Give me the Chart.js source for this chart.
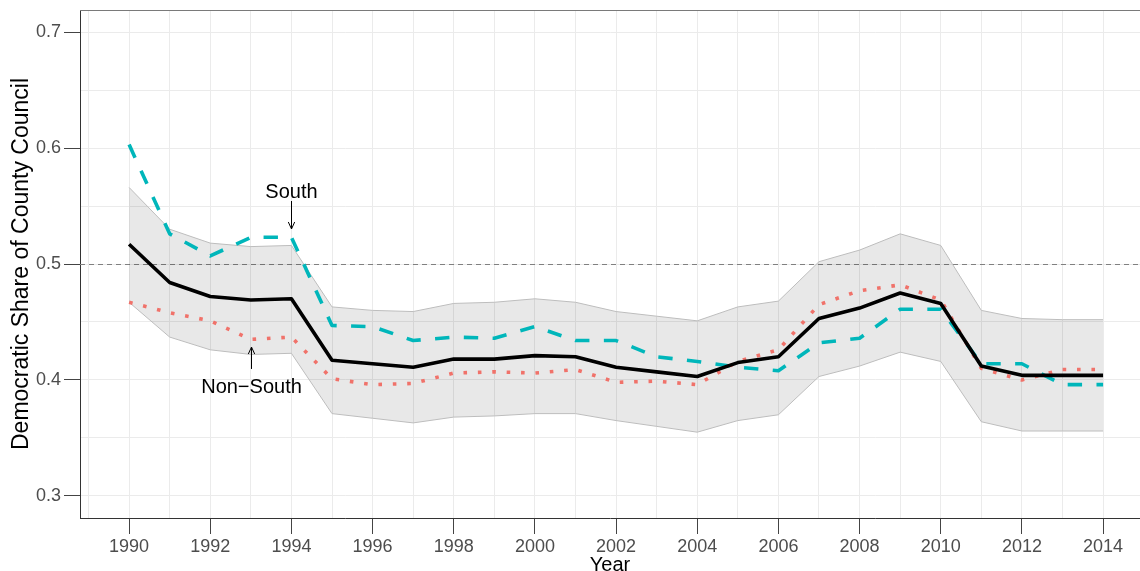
<!DOCTYPE html>
<html>
<head>
<meta charset="utf-8">
<title>Democratic Share of County Council, 1990–2014</title>
<script src="https://cdn.jsdelivr.net/npm/chart.js@4.4.1/dist/chart.umd.min.js"></script>
<style>
  html, body { margin: 0; padding: 0; background: #ffffff; }
  #wrap { width: 1140px; height: 571px; }
</style>
</head>
<body>
<div id="wrap"><canvas id="chart" width="1140" height="571"></canvas></div>
<script>
// ---- data ----
const years = [1990, 1991, 1992, 1993, 1994, 1995, 1996, 1997, 1998, 1999, 2000, 2001, 2002,
               2003, 2004, 2005, 2006, 2007, 2008, 2009, 2010, 2011, 2012, 2013, 2014];

// overall mean share
const overall = [0.517, 0.484, 0.472, 0.469, 0.470, 0.417, 0.414, 0.411, 0.418, 0.418, 0.421, 0.420, 0.411,
                 0.407, 0.403, 0.415, 0.420, 0.453, 0.462, 0.475, 0.466, 0.412, 0.404, 0.404, 0.404];
// confidence band around the overall mean
const bandUpper = [0.566, 0.530, 0.518, 0.515, 0.516, 0.463, 0.460, 0.459, 0.466, 0.467, 0.470, 0.467, 0.459,
                   0.455, 0.451, 0.463, 0.468, 0.502, 0.512, 0.526, 0.516, 0.460, 0.453, 0.452, 0.452];
const bandLower = [0.467, 0.437, 0.426, 0.422, 0.423, 0.371, 0.367, 0.363, 0.368, 0.369, 0.371, 0.371, 0.365,
                   0.360, 0.355, 0.365, 0.370, 0.403, 0.412, 0.424, 0.416, 0.364, 0.356, 0.356, 0.356];
// regional series
const south = [0.603, 0.526, 0.507, 0.523, 0.523, 0.447, 0.446, 0.434, 0.437, 0.436, 0.446, 0.434, 0.434,
               0.420, 0.416, 0.411, 0.408, 0.432, 0.436, 0.461, 0.461, 0.414, 0.414, 0.396, 0.396];
const nonSouth = [0.467, 0.458, 0.451, 0.435, 0.437, 0.401, 0.396, 0.397, 0.406, 0.407, 0.406, 0.409, 0.398,
                  0.399, 0.396, 0.416, 0.426, 0.465, 0.477, 0.482, 0.469, 0.410, 0.400, 0.409, 0.409];

// axis ticks (grid at every tick, labels on the major ones)
const xTicks = [1989, 1990, 1991, 1992, 1993, 1994, 1995, 1996, 1997, 1998, 1999, 2000, 2001,
                2002, 2003, 2004, 2005, 2006, 2007, 2008, 2009, 2010, 2011, 2012, 2013, 2014];
const yTicks = [0.30, 0.35, 0.40, 0.45, 0.50, 0.55, 0.60, 0.65, 0.70];
const yMajor = [0.3, 0.4, 0.5, 0.6, 0.7];

// reference line for an even split
const parityLine = 0.5;

// labelled arrows pointing at the regional series
const notes = [
  { text: 'South',     year: 1994, baseline: 0.5569, tail: 0.5543, tip: 0.5302 },
  { text: 'Non\u2212South', year: 1993, baseline: 0.3888, tail: 0.4095, tip: 0.4284 }
];

// ---- drawing ----
const FONT = '"Liberation Sans", Arial, Helvetica, sans-serif';
const pts = arr => years.map((yr, i) => ({ x: yr, y: arr[i] }));
const isMajorY = v => yMajor.some(m => Math.abs(m - v) < 1e-9);

const panelDecor = {
  id: 'panelDecor',
  beforeDatasetsDraw(chart) {
    const { ctx, chartArea: a, scales: { y } } = chart;
    ctx.save();
    // panel top edge
    ctx.strokeStyle = '#7a7a7a';
    ctx.lineWidth = 1;
    ctx.beginPath();
    ctx.moveTo(a.left, a.top + 0.5);
    ctx.lineTo(a.right, a.top + 0.5);
    ctx.stroke();
    // dashed 50% line
    const py = Math.round(y.getPixelForValue(parityLine)) + 0.5;
    ctx.strokeStyle = '#808080';
    ctx.lineWidth = 1.1;
    ctx.setLineDash([5, 4]);
    ctx.beginPath();
    ctx.moveTo(a.left, py);
    ctx.lineTo(a.right, py);
    ctx.stroke();
    ctx.restore();
  },
  afterDatasetsDraw(chart) {
    const { ctx, scales: { x, y } } = chart;
    ctx.save();
    ctx.fillStyle = '#000';
    ctx.strokeStyle = '#000';
    ctx.lineWidth = 1;
    ctx.font = '20px ' + FONT;
    ctx.textAlign = 'center';
    ctx.textBaseline = 'alphabetic';
    notes.forEach(n => {
      const px = Math.round(x.getPixelForValue(n.year)) + 0.5;
      ctx.fillText(n.text, px, y.getPixelForValue(n.baseline));
      const y0 = y.getPixelForValue(n.tail);
      const y1 = y.getPixelForValue(n.tip);
      ctx.beginPath();
      ctx.moveTo(px, y0);
      ctx.lineTo(px, y1);
      ctx.stroke();
      const dir = Math.sign(y1 - y0);
      const len = 7, half = 3.2;
      ctx.beginPath();
      ctx.moveTo(px - half, y1 - dir * len);
      ctx.lineTo(px, y1);
      ctx.lineTo(px + half, y1 - dir * len);
      ctx.stroke();
    });
    ctx.restore();
  }
};

const lineBase = { pointRadius: 0, pointHoverRadius: 0, tension: 0, borderJoinStyle: 'round', borderCapStyle: 'butt' };

new Chart(document.getElementById('chart').getContext('2d'), {
  type: 'line',
  data: {
    datasets: [
      Object.assign({}, lineBase, {
        label: 'upper', data: pts(bandUpper), order: 5,
        borderColor: '#bdbdbd', borderWidth: 1,
        fill: '+1', backgroundColor: 'rgba(0,0,0,0.09)'
      }),
      Object.assign({}, lineBase, {
        label: 'lower', data: pts(bandLower), order: 4,
        borderColor: '#bdbdbd', borderWidth: 1, fill: false
      }),
      Object.assign({}, lineBase, {
        label: 'Non\u2212South', data: pts(nonSouth), order: 3,
        borderColor: '#f0726a', borderWidth: 3.6, borderDash: [3.6, 10.8], fill: false
      }),
      Object.assign({}, lineBase, {
        label: 'South', data: pts(south), order: 2,
        borderColor: '#00b6ba', borderWidth: 3.6, borderDash: [14.4, 14.4], fill: false
      }),
      Object.assign({}, lineBase, {
        label: 'All', data: pts(overall), order: 1,
        borderColor: '#000000', borderWidth: 3.6, fill: false
      })
    ]
  },
  options: {
    responsive: false,
    animation: false,
    events: [],
    layout: { padding: { top: 10, right: 0, bottom: 0, left: 0 } },
    plugins: { legend: { display: false }, tooltip: { enabled: false } },
    scales: {
      x: {
        type: 'linear',
        min: 1988.79,
        max: 2014.91,
        afterBuildTicks: s => { s.ticks = xTicks.map(v => ({ value: v })); },
        afterFit: s => { s.height = 53; s.paddingLeft = 0; s.paddingRight = 0; },
        grid: {
          color: '#ebebeb', lineWidth: 1, drawTicks: true, tickLength: 16, tickWidth: 1,
          tickColor: c => (c.tick && c.tick.value % 2 === 0) ? '#444444' : 'rgba(0,0,0,0)'
        },
        border: { display: true, color: '#333333', width: 1 },
        ticks: {
          autoSkip: false, maxRotation: 0, minRotation: 0, padding: 2,
          color: '#4d4d4d', font: { size: 18, family: FONT },
          callback: v => (v % 2 === 0 ? String(v) : '')
        },
        title: {
          display: true, text: 'Year', color: '#000000',
          font: { size: 20, family: FONT }, padding: { top: 0, bottom: -6 }
        }
      },
      y: {
        type: 'linear',
        min: 0.281,
        max: 0.719,
        afterBuildTicks: s => { s.ticks = yTicks.map(v => ({ value: v })); },
        afterFit: s => { s.width = 80; s.paddingTop = 0; s.paddingBottom = 0; },
        grid: {
          color: '#ebebeb', lineWidth: 1, drawTicks: true, tickLength: 16, tickWidth: 1,
          tickColor: c => (c.tick && isMajorY(c.tick.value)) ? '#444444' : 'rgba(0,0,0,0)'
        },
        border: { display: true, color: '#333333', width: 1 },
        ticks: {
          autoSkip: false, padding: 3,
          color: '#4d4d4d', font: { size: 18, family: FONT },
          callback: v => (isMajorY(v) ? v.toFixed(1) : '')
        },
        title: {
          display: true, text: 'Democratic Share of County Council', color: '#000000',
          font: { size: 23, family: FONT }, padding: { top: 8, bottom: 0 }
        }
      }
    }
  },
  plugins: [panelDecor]
});
</script>
</body>
</html>
